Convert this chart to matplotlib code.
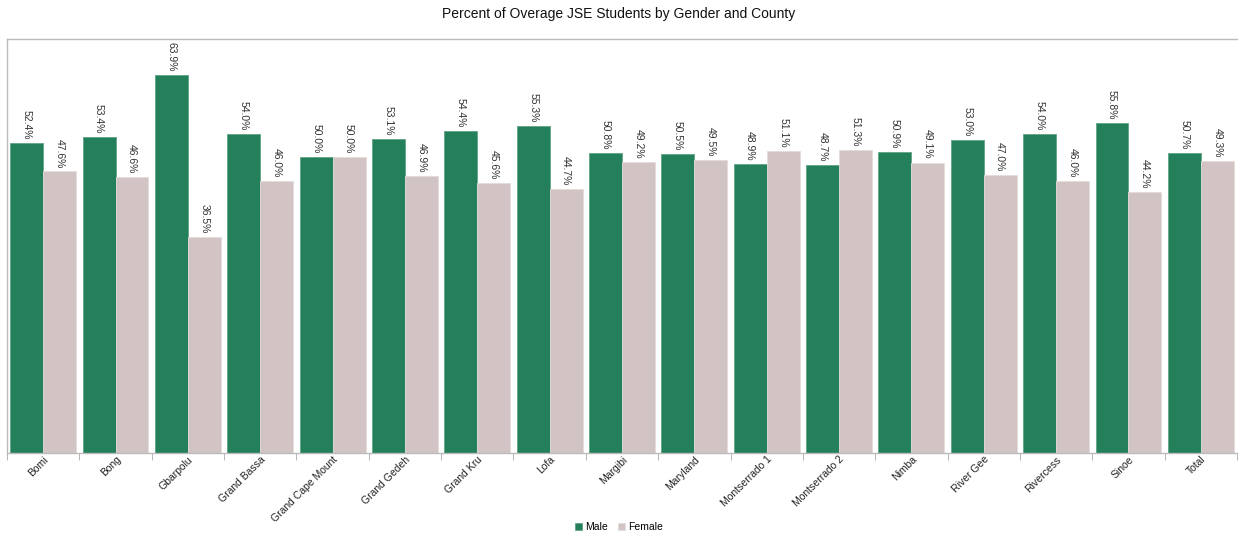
import matplotlib
matplotlib.use("Agg")
import matplotlib.pyplot as plt
import numpy as np

plt.rcParams['font.family'] = ['Liberation Sans', 'DejaVu Sans']

counties = ["Bomi", "Bong", "Gbarpolu", "Grand Bassa", "Grand Cape Mount", "Grand Gedeh",
            "Grand Kru", "Lofa", "Margibi", "Maryland", "Montserrado 1", "Montserrado 2",
            "Nimba", "River Gee", "Rivercess", "Sinoe", "Total"]
male = [52.4, 53.4, 63.9, 54.0, 50.0, 53.1, 54.4, 55.3, 50.8, 50.5, 48.9, 48.7,
        50.9, 53.0, 54.0, 55.8, 50.7]
female = [47.6, 46.6, 36.5, 46.0, 50.0, 46.9, 45.6, 44.7, 49.2, 49.5, 51.1, 51.3,
          49.1, 47.0, 46.0, 44.2, 49.3]

male_color = "#23805A"
female_color = "#D2C4C4"

fig = plt.figure(figsize=(12.38, 5.35), dpi=100)
ax = fig.add_axes([7/1238, 1 - 453/535, 1230/1238, (453 - 39)/535])

x = np.arange(len(counties))
w = 0.455
ax.bar(x - w/2, male, width=w, color=male_color, edgecolor="#5FA584", linewidth=0.6, label="Male")
ax.bar(x + w/2, female, width=w, color=female_color, edgecolor="#E4DADA", linewidth=0.6, label="Female")

for xi, v in zip(x, male):
    ax.text(xi - w/2, v + 0.6, f"{v:.1f}%", rotation=270, ha="center", va="bottom",
            fontsize=7.5, color="#333333")
for xi, v in zip(x, female):
    ax.text(xi + w/2, v + 0.6, f"{v:.1f}%", rotation=270, ha="center", va="bottom",
            fontsize=7.5, color="#333333")

ax.set_xlim(-0.5, len(counties) - 0.5)
ax.set_ylim(0, 70)
ax.set_yticks([])
ax.set_xticks(x)
ax.set_xticklabels(counties, rotation=45, ha="right", rotation_mode="anchor", fontsize=7.5,
                   color="#222222")
ax.tick_params(axis="x", length=0, pad=1)
ax.set_xticks(np.arange(-0.5, len(counties), 1), minor=True)
ax.tick_params(axis="x", which="minor", length=5, color="#AAAAAA")

for side in ["left", "top", "bottom"]:
    ax.spines[side].set_color("#BBBBBB")
    ax.spines[side].set_linewidth(1.0)
ax.spines["right"].set_visible(False)

fig.text(0.5, 1 - 14/535, "Percent of Overage JSE Students by Gender and County",
         ha="center", va="center", fontsize=10, color="#111111")

fig.legend(loc="center", bbox_to_anchor=(0.5, 1 - 527/535), ncol=2, frameon=False,
           fontsize=7.5, handlelength=0.7, handleheight=0.7, handletextpad=0.3,
           columnspacing=1.0)

fig.savefig("out.png", dpi=100)
